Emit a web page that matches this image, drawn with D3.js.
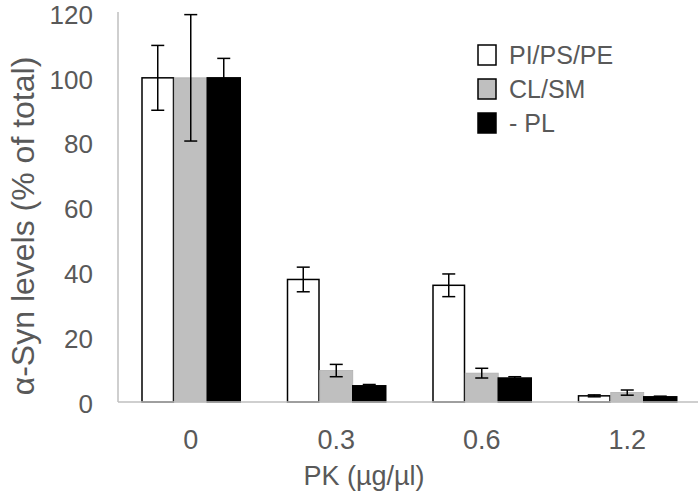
<!DOCTYPE html>
<html>
<head>
<meta charset="utf-8">
<script src="https://cdn.jsdelivr.net/npm/d3@7"></script>
<style>
  html, body { margin: 0; padding: 0; background: #fff; }
  svg { display: block; }
  text { font-family: "Liberation Sans", Arial, sans-serif; fill: #595959; }
</style>
</head>
<body>
<svg id="chart" width="700" height="495"></svg>
<script>
const categories = ["0", "0.3", "0.6", "1.2"];
const seriesNames = ["PI/PS/PE", "CL/SM", "- PL"];
const valuesPI = [100, 37.8, 36.0, 1.9];
const errorsPI = [10, 3.8, 3.5, 0.3];
const valuesCL = [100, 9.7, 8.9, 2.9];
const errorsCL = [19.5, 1.9, 1.5, 0.8];
const valuesPL = [100, 5.0, 7.4, 1.6];
const errorsPL = [6, 0.4, 0.4, 0.2];
const yTicks = [0, 20, 40, 60, 80, 100, 120];
const fills = ["#ffffff", "#bfbfbf", "#000000"];
const strokes = ["#000000", "#b0b0b0", "#000000"];

const series = [
  { name: seriesNames[0], values: valuesPI, errors: errorsPI },
  { name: seriesNames[1], values: valuesCL, errors: errorsCL },
  { name: seriesNames[2], values: valuesPL, errors: errorsPL }
];

const svg = d3.select("#chart");
const mLeft = 118, mRight = 700, mTop = 13, mBottom = 402;

const x = d3.scaleBand().domain(categories).range([mLeft, mRight]).padding(0);
const groupW = 99;
const xs = d3.scaleBand().domain(d3.range(series.length)).range([0, groupW]).padding(0);
const y = d3.scaleLinear().domain([0, 120]).range([mBottom, mTop]);

// y axis line
svg.append("line").attr("x1", mLeft).attr("x2", mLeft).attr("y1", mTop - 1).attr("y2", mBottom)
  .attr("stroke", "#bfbfbf").attr("stroke-width", 1.5);

// y axis ticks
const yAxis = d3.axisLeft(y).tickValues(yTicks).tickSize(0).tickPadding(25);
const gy = svg.append("g").attr("transform", `translate(${mLeft},0)`).call(yAxis);
gy.select(".domain").remove();
gy.selectAll("text").style("font-size", "26px").attr("fill", "#595959")
  .attr("y", 2)
  .style("font-family", "'Liberation Sans', Arial, sans-serif");

// bars
series.forEach((s, si) => {
  const g = svg.append("g");
  g.selectAll("rect").data(categories).join("rect")
    .attr("x", (c) => x(c) + (x.bandwidth() - groupW) / 2 + xs(si) + (si === 0 ? 0.75 : 0))
    .attr("width", xs.bandwidth() - (si === 0 ? 1.5 : 0))
    .attr("y", (c, i) => y(s.values[i]))
    .attr("height", (c, i) => mBottom - y(s.values[i]))
    .attr("fill", fills[si])
    .attr("stroke", strokes[si])
    .attr("stroke-width", si === 1 ? 0.8 : 1.5);
});

// baseline
svg.append("line").attr("x1", mLeft).attr("x2", 698).attr("y1", mBottom).attr("y2", mBottom)
  .attr("stroke", "#bfbfbf").attr("stroke-width", 1.5);

// error bars
series.forEach((s, si) => {
  const g = svg.append("g").attr("stroke", "#000").attr("stroke-width", 1.5);
  categories.forEach((c, i) => {
    const cx = x(c) + (x.bandwidth() - groupW) / 2 + xs(si) + xs.bandwidth() / 2;
    const y1 = y(s.values[i] + s.errors[i]);
    const y0 = y(Math.max(0, s.values[i] - s.errors[i]));
    g.append("line").attr("x1", cx).attr("x2", cx).attr("y1", y1).attr("y2", y0);
    g.append("line").attr("x1", cx - 6.5).attr("x2", cx + 6.5).attr("y1", y1).attr("y2", y1);
    g.append("line").attr("x1", cx - 6.5).attr("x2", cx + 6.5).attr("y1", y0).attr("y2", y0);
  });
});

// x axis labels
const xAxis = d3.axisBottom(x).tickSize(0).tickPadding(28);
const gx = svg.append("g").attr("transform", `translate(0,${mBottom})`).call(xAxis);
gx.select(".domain").remove();
gx.selectAll("text").style("font-size", "27px").attr("fill", "#595959")
  .style("font-family", "'Liberation Sans', Arial, sans-serif");

// axis titles
svg.append("text").attr("x", 364).attr("y", 485).attr("text-anchor", "middle")
  .style("font-size", "27px").text("PK (\u00b5g/\u00b5l)");
svg.append("text").attr("transform", "translate(34,226) rotate(-90)").attr("text-anchor", "middle")
  .style("font-size", "32px").text("\u03b1-Syn levels (% of total)");

// legend
const legend = svg.append("g");
series.forEach((s, si) => {
  const cy = 55 + si * 34;
  legend.append("rect").attr("x", 478).attr("y", cy - 10).attr("width", 18).attr("height", 20)
    .attr("fill", fills[si]).attr("stroke", "#000").attr("stroke-width", 1.5);
  legend.append("text").attr("x", 509).attr("y", cy + 9).style("font-size", "25px").text(s.name);
});
</script>
</body>
</html>
